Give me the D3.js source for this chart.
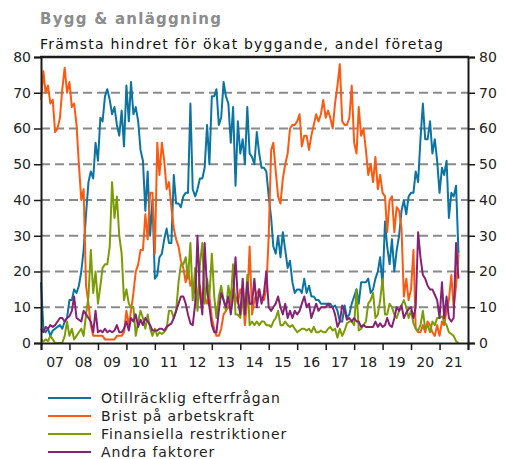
<!DOCTYPE html>
<html>
<head>
<meta charset="utf-8">
<script src="https://cdn.jsdelivr.net/npm/d3@7"></script>
<style>
  body { margin: 0; background: #fff; }
  svg { display: block; font-family: "DejaVu Sans", Verdana, sans-serif; }
</style>
</head>
<body>
<svg id="chart" width="506" height="459"></svg>
<script>
// monthly shares (%), Jan 2007 .. Sep 2021, one row per year
const otillracklig = [
  17, 4, 3, 4, 2, 3.5, 4, 4.5, 5, 4, 6, 7,
  12, 12, 15, 14, 16, 20, 26, 36, 45, 48, 46, 56,
  51, 63, 62, 69, 71, 68, 64, 66, 61, 58, 65, 55,
  72, 62, 73, 64, 66, 62, 54, 51, 37, 48, 30, 40,
  18, 19, 24, 25, 29, 32, 28, 28, 47, 39, 39, 38,
  41, 42, 42, 67, 43, 41, 43, 46, 46, 49, 61, 50,
  69, 69, 71, 61, 63, 73, 69, 67, 56, 66, 44, 62,
  53, 57, 50, 66, 53, 52, 50, 59, 53, 49, 49, 48,
  41, 35, 27, 25, 30, 24, 31, 26, 21, 23, 17, 14,
  15, 15, 14, 18, 14, 16, 13, 13, 12, 12, 11, 11,
  11, 11, 11, 10, 10.5, 9, 6, 6, 10.5, 7, 8, 11,
  13, 15, 11, 17, 17, 17, 18, 14, 15, 18, 20, 24,
  16, 34, 27, 22, 29, 20, 26, 30, 37, 40, 36, 41,
  42, 42, 48, 45, 57, 67, 57, 57, 62, 53, 57, 51,
  42, 49, 47, 51, 35, 42, 41, 44, 25
];
const arbetskraft = [
  68, 76, 70, 72, 67, 68, 59, 60, 63, 71, 77, 70,
  73, 66, 67, 61, 50, 40, 43, 16, 11, 5, 2, 2,
  2, 2, 2, 1, 1, 1, 1, 1, 2, 2, 2, 3,
  9, 5, 9, 14, 20, 22, 26, 26, 36, 29, 42, 42,
  25, 56, 47, 56, 51, 43, 45, 38, 32, 29, 27, 23,
  21, 17, 21, 16, 17, 14, 13, 16, 11, 13, 11, 13,
  7, 4, 2, 2, 4, 8, 9, 10, 11, 15, 13, 11,
  15, 13, 5, 12, 27, 8, 12, 14, 15, 12, 12, 15,
  30, 54, 56, 48, 41, 39, 46, 50, 53, 60, 61, 61,
  62, 64, 55, 58, 58, 54, 58, 61, 64, 62, 64, 68,
  63, 65, 63, 60, 67, 72, 78, 62, 61, 61, 63, 72,
  56, 53, 66, 58, 60, 54, 47, 50, 45, 52, 43, 47,
  42, 41, 31, 40, 41, 31, 38, 37, 32, 13, 18, 12,
  15, 26, 4, 3, 3, 5, 3, 6, 5, 3, 2, 5,
  2, 6, 5, 9, 12, 19, 10, 16, 25
];
const finansiella = [
  1, 0.5, 1, 0.5, 2, 1, 0, 0, 0, 0, 2, 6,
  2, 4, 1, 2, 3, 4, 2, 8, 13, 26, 14, 20,
  11, 16, 21, 22, 22, 27, 45, 35, 41, 30, 25, 12,
  15, 11, 10, 10, 2, 6, 9, 7, 4, 8, 4, 2,
  4, 2, 3, 2.5, 3, 4, 9, 9, 7, 9, 17, 22,
  22, 24, 18, 28, 12, 21, 9, 22, 28, 11, 18, 13,
  25, 13, 7, 13, 16, 12, 9, 16, 12, 22, 8, 8,
  7, 13, 8, 19, 5, 6, 5, 6, 5, 6, 6, 5,
  5, 4.5, 6, 7, 9, 5, 5, 6, 5, 4.5, 5, 4,
  3, 3.5, 4, 4, 3.5, 4, 3, 4.5, 3, 3, 3.5, 3,
  3, 4, 4.5, 3.5, 4, 1.5, 4, 2, 3.5, 5.5, 6, 6,
  5, 15, 3.5, 4, 5, 6, 11, 12, 14, 7, 8, 12,
  18, 8, 8, 11, 10, 8, 7, 9, 10.5, 12, 10, 7,
  9, 5.5, 4, 3.5, 5, 9, 4, 5, 3, 6, 5, 7,
  7, 7.5, 6, 5, 3, 2.5, 2, 0.5, 0
];
const andra = [
  4, 3, 4.5, 4, 5, 4.5, 5, 6, 7, 7, 6, 7,
  7.5, 9, 13, 7, 6.5, 6, 9, 8, 7, 6, 3, 9,
  3, 3.5, 3, 4, 3, 3.5, 3, 3.5, 5, 3, 3, 4,
  6, 3.5, 7, 6, 8, 4.5, 6.5, 5, 7, 6, 5, 3.5,
  3.5, 3.5, 4, 4, 3.5, 4.5, 5, 5.5, 7, 9, 11, 13,
  13, 11, 8, 5.5, 5, 11, 30, 14, 8, 28, 15, 10,
  5, 3, 3, 9, 14, 12, 10, 13, 8, 13, 24, 12,
  8, 18, 8, 17, 11, 11, 18, 10, 15, 11, 14, 20,
  10, 9, 10, 11, 13, 10, 8, 11, 7, 9, 7, 9,
  8, 9, 11, 13, 10, 11, 7, 9, 11, 9, 10, 10,
  10, 11, 10, 10, 8, 4.5, 6, 10.5, 9, 6.5, 7, 6,
  7, 6, 6, 4.5, 5, 4.5, 4.5, 4.5, 4.5, 6, 4.5, 5.5,
  4.5, 5, 7, 5, 4.5, 7, 10, 9, 10.5, 7, 8.5, 9.5,
  10, 7, 10, 31, 24, 19, 18, 16, 15, 15, 13.5, 12,
  7, 17, 7, 13, 7, 6, 7, 28, 18
];
const seriesNames = ["Otillräcklig efterfrågan", "Brist på arbetskraft", "Finansiella restriktioner", "Andra faktorer"];
const seriesColors = ["#0b74a3", "#fb5a10", "#7b9c05", "#862274"];
const yearLabels = ["07","08","09","10","11","12","13","14","15","16","17","18","19","20","21"];
const yTicks = [0, 10, 20, 30, 40, 50, 60, 70, 80];

const svg = d3.select("#chart");
const pLeft = 41, pRight = 468, pTop = 57, pBottom = 343;

const x = d3.scaleTime()
  .domain([new Date(2007, 0, 1), new Date(2022, 0, 1)])
  .range([pLeft, pRight]);
const y = d3.scaleLinear().domain([0, 80]).range([pBottom, pTop]);

// titles
svg.append("text")
  .attr("x", 40).attr("y", 24)
  .attr("font-size", 15).attr("font-weight", "bold")
  .attr("fill", "#8c8c8c").attr("letter-spacing", 1.25)
  .text("Bygg & anläggning");
svg.append("text")
  .attr("x", 40).attr("y", 49)
  .attr("font-size", 14).attr("fill", "#111").attr("letter-spacing", 1.2)
  .text("Främsta hindret för ökat byggande, andel företag");

// grid
svg.append("g")
  .selectAll("line")
  .data(yTicks.filter(d => d > 0 && d < 80))
  .join("line")
    .attr("x1", pLeft).attr("x2", pRight)
    .attr("y1", d => y(d)).attr("y2", d => y(d))
    .attr("stroke", "#8a8a8a").attr("stroke-width", 2)
    .attr("stroke-dasharray", "9,5");

// lines
const line = d3.line()
  .x((d, i) => x(new Date(2007, i, 1)))
  .y(d => y(d));

[otillracklig, arbetskraft, finansiella, andra].forEach((s, k) => {
  svg.append("path")
    .datum(s)
    .attr("fill", "none")
    .attr("stroke", seriesColors[k])
    .attr("stroke-width", 2)
    .attr("stroke-linejoin", "round")
    .attr("d", line);
});

// axes
const yl = svg.append("g")
  .attr("transform", `translate(${pLeft},0)`)
  .call(d3.axisLeft(y).tickValues(yTicks).tickSize(7).tickPadding(3));
const yrAxis = svg.append("g")
  .attr("transform", `translate(${pRight},0)`)
  .call(d3.axisRight(y).tickValues(yTicks).tickSize(7).tickPadding(4));
const xTickDates = d3.range(2007, 2023).map(yy => new Date(yy, 0, 1));
const xa = svg.append("g")
  .attr("transform", `translate(0,${pBottom})`)
  .call(d3.axisBottom(x).tickValues(xTickDates).tickSize(7).tickFormat(""));

[yl, yrAxis, xa].forEach(g => {
  g.select(".domain").attr("stroke", "#1a1a1a").attr("stroke-width", 2);
  g.selectAll(".tick line").attr("stroke", "#1a1a1a").attr("stroke-width", 1.5);
  g.selectAll(".tick text").attr("font-size", 14).attr("fill", "#222")
    .attr("font-family", "DejaVu Sans, sans-serif");
});

// top border
svg.append("line")
  .attr("x1", pLeft - 1).attr("x2", pRight + 1)
  .attr("y1", pTop).attr("y2", pTop)
  .attr("stroke", "#1a1a1a").attr("stroke-width", 2.5);

// year labels in mid-year
svg.append("g")
  .selectAll("text")
  .data(yearLabels)
  .join("text")
    .attr("x", (d, i) => x(new Date(2007 + i, 6, 1)))
    .attr("y", 367)
    .attr("text-anchor", "middle")
    .attr("font-size", 14).attr("fill", "#222")
    .text(d => d);

// legend
const lg = svg.append("g");
seriesNames.forEach((n, i) => {
  const ly = 398 + i * 18;
  lg.append("line")
    .attr("x1", 48).attr("x2", 91).attr("y1", ly).attr("y2", ly)
    .attr("stroke", seriesColors[i]).attr("stroke-width", 2);
  lg.append("text")
    .attr("x", 101).attr("y", ly + 5)
    .attr("font-size", 14).attr("fill", "#222").attr("letter-spacing", 0.9)
    .text(n);
});
</script>
</body>
</html>
